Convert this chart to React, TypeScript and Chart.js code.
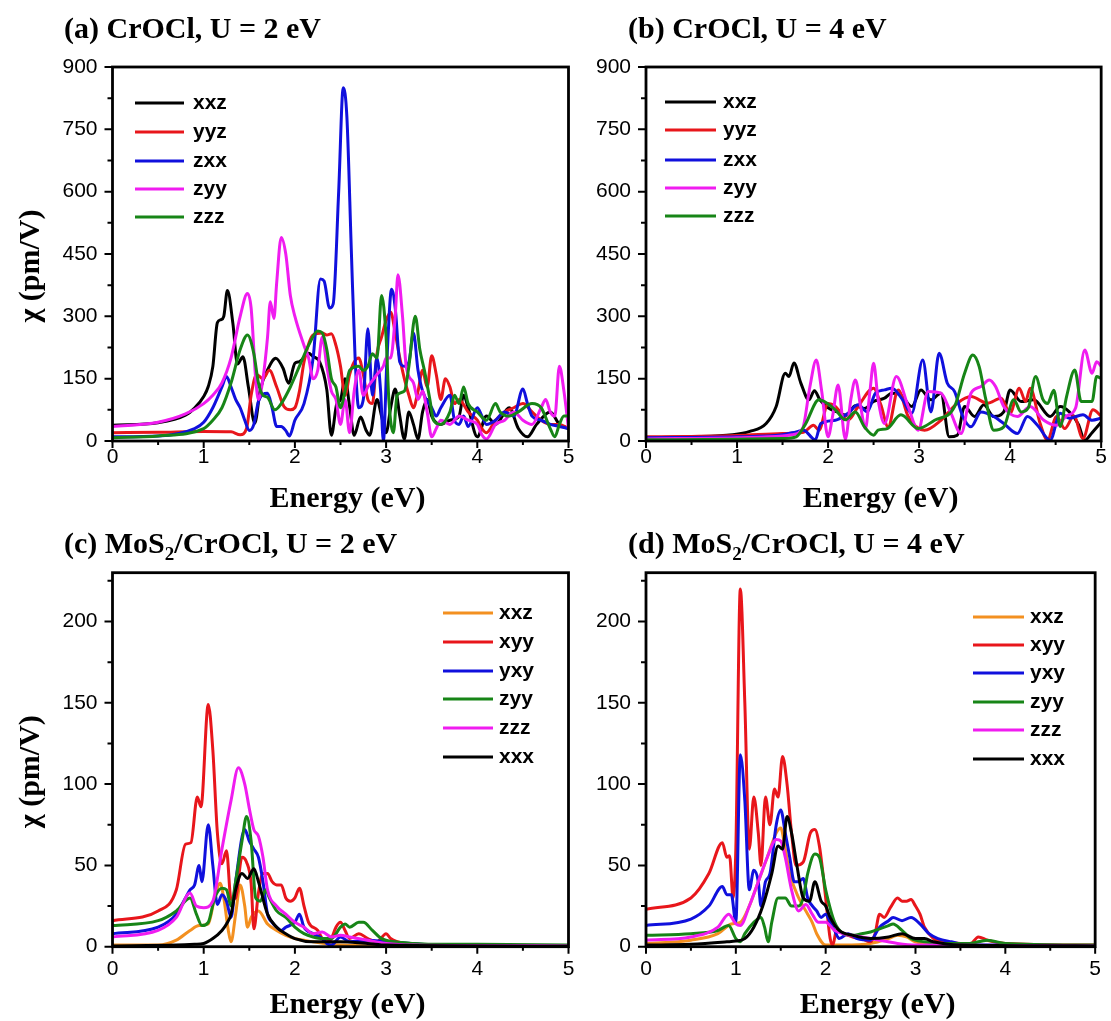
import React, { useEffect, useRef } from 'react';
import { Chart, registerables } from 'chart.js';

Chart.register(...registerables);

type Pt = [number, number];

// ---------- axis ticks ----------
const energyTicks = [0, 1, 2, 3, 4, 5];
const energyMinorTicks = [0.5, 1.5, 2.5, 3.5, 4.5];
const chiTicksTop = [0, 150, 300, 450, 600, 750, 900];
const chiMinorTop = [75, 225, 375, 525, 675, 825];
const chiTicksBottom = [0, 50, 100, 150, 200];
const chiMinorBottom = [25, 75, 125, 175, 225];

const labelsCrOCl = ['xxz', 'yyz', 'zxx', 'zyy', 'zzz'];
const labelsHetero = ['xxz', 'xyy', 'yxy', 'zyy', 'zzz', 'xxx'];

// ---------- (a) CrOCl, U = 2 eV ----------
const a_xxz: Pt[] = [[0,38],[0.5,44],[0.8,62],[0.9,79],[1.0,107],[1.05,131],[1.1,179],[1.15,285],[1.19,292],[1.22,300],[1.26,362],[1.32,283],[1.37,185],[1.43,203],[1.49,130],[1.56,43],[1.62,123],[1.7,171],[1.79,199],[1.87,175],[1.93,139],[2.0,187],[2.05,191],[2.15,211],[2.2,203],[2.27,191],[2.35,123],[2.4,14],[2.46,90],[2.5,99],[2.55,150],[2.6,83],[2.65,14],[2.72,58],[2.78,26],[2.82,14],[2.9,100],[2.95,60],[3.0,20],[3.05,80],[3.1,125],[3.15,60],[3.2,5],[3.25,70],[3.3,40],[3.35,5],[3.4,70],[3.45,100],[3.5,60],[3.6,40],[3.7,50],[3.8,60],[3.85,110],[3.9,80],[4.0,10],[4.1,60],[4.2,40],[4.35,80],[4.45,30],[4.55,10],[4.65,40],[4.8,70],[4.9,40],[5.0,30]];
const a_yyz: Pt[] = [[0,20],[0.5,21],[1.0,23],[1.3,22],[1.4,15],[1.47,30],[1.52,110],[1.58,160],[1.65,150],[1.72,170],[1.8,130],[1.88,83],[1.95,75],[2.0,80],[2.05,120],[2.1,190],[2.2,255],[2.3,260],[2.35,255],[2.4,258],[2.45,230],[2.5,180],[2.55,110],[2.6,160],[2.65,190],[2.7,200],[2.75,160],[2.8,100],[2.85,90],[2.9,210],[2.95,250],[3.0,290],[3.05,310],[3.1,260],[3.15,200],[3.2,150],[3.25,110],[3.3,80],[3.35,120],[3.4,170],[3.45,130],[3.5,205],[3.55,160],[3.6,100],[3.65,150],[3.7,130],[3.75,90],[3.8,100],[3.9,70],[4.0,50],[4.05,30],[4.1,20],[4.2,50],[4.3,70],[4.4,80],[4.5,90],[4.6,70],[4.7,50],[4.8,40],[4.9,40],[5.0,30]];
const a_zxx: Pt[] = [[0,10],[0.5,12],[0.9,30],[1.0,45],[1.1,80],[1.2,130],[1.25,155],[1.3,130],[1.35,100],[1.4,80],[1.45,50],[1.5,25],[1.55,40],[1.6,95],[1.7,115],[1.75,80],[1.8,35],[1.85,35],[1.9,25],[1.94,12],[2.0,50],[2.1,90],[2.2,200],[2.28,390],[2.32,385],[2.38,320],[2.42,330],[2.48,600],[2.53,850],[2.57,780],[2.62,450],[2.66,200],[2.7,80],[2.75,100],[2.8,270],[2.85,110],[2.9,200],[2.94,120],[2.97,0],[3.01,200],[3.06,365],[3.1,320],[3.15,190],[3.2,180],[3.25,190],[3.3,260],[3.35,170],[3.4,120],[3.5,80],[3.55,60],[3.6,80],[3.7,110],[3.75,50],[3.8,40],[3.85,60],[3.9,35],[4.0,80],[4.05,60],[4.1,40],[4.2,50],[4.3,70],[4.4,60],[4.5,125],[4.55,90],[4.6,60],[4.7,50],[4.8,40],[4.9,35],[5.0,30]];
const a_zyy: Pt[] = [[0,35],[0.5,45],[0.8,65],[1.0,90],[1.1,110],[1.2,140],[1.3,200],[1.4,300],[1.48,355],[1.52,320],[1.57,150],[1.6,100],[1.65,150],[1.7,250],[1.73,335],[1.77,295],[1.8,380],[1.85,490],[1.9,450],[1.95,350],[2.0,300],[2.1,230],[2.15,200],[2.2,150],[2.25,170],[2.3,250],[2.35,180],[2.4,120],[2.45,100],[2.5,40],[2.55,100],[2.6,20],[2.65,120],[2.7,170],[2.75,110],[2.8,130],[2.9,160],[2.97,180],[3.0,200],[3.05,200],[3.1,300],[3.13,400],[3.18,300],[3.22,180],[3.3,140],[3.35,100],[3.4,120],[3.45,70],[3.5,10],[3.55,30],[3.6,50],[3.7,40],[3.8,60],[3.9,50],[4.0,40],[4.05,15],[4.1,5],[4.2,40],[4.3,50],[4.4,70],[4.5,50],[4.6,40],[4.7,80],[4.75,100],[4.8,70],[4.85,60],[4.9,180],[4.95,120],[5.0,30]];
const a_zzz: Pt[] = [[0,8],[0.5,12],[1.0,30],[1.1,50],[1.2,80],[1.3,140],[1.4,220],[1.48,255],[1.55,210],[1.6,140],[1.65,110],[1.7,105],[1.78,75],[1.85,90],[1.95,130],[2.05,180],[2.15,230],[2.25,265],[2.3,260],[2.35,220],[2.4,150],[2.45,130],[2.5,80],[2.55,120],[2.6,170],[2.7,180],[2.75,170],[2.8,180],[2.85,210],[2.9,200],[2.95,350],[3.0,250],[3.03,100],[3.08,20],[3.12,110],[3.2,120],[3.25,180],[3.32,300],[3.37,220],[3.42,170],[3.48,100],[3.52,50],[3.6,40],[3.7,70],[3.75,110],[3.8,90],[3.85,130],[3.9,90],[4.0,70],[4.1,50],[4.2,90],[4.25,70],[4.35,60],[4.45,70],[4.6,90],[4.7,80],[4.8,30],[4.85,10],[4.9,40],[4.95,60],[5.0,60]];

// ---------- (b) CrOCl, U = 4 eV ----------
const b_xxz: Pt[] = [[0,8],[0.5,10],[0.95,15],[1.14,23],[1.32,42],[1.43,83],[1.53,163],[1.57,155],[1.625,188],[1.7,140],[1.79,99],[1.85,121],[1.91,99],[2.0,80],[2.1,70],[2.2,62],[2.3,85],[2.4,78],[2.5,95],[2.62,103],[2.7,115],[2.8,111],[2.92,83],[3.02,123],[3.13,99],[3.24,115],[3.33,10],[3.42,14],[3.5,83],[3.61,59],[3.71,87],[3.82,59],[3.93,70],[4.0,123],[4.12,95],[4.26,99],[4.44,59],[4.55,83],[4.65,70],[4.75,40],[4.82,2],[4.9,20],[5.0,45]];
const b_yyz: Pt[] = [[0,10],[0.5,11],[1.0,13],[1.5,18],[1.73,21],[1.84,38],[1.9,26],[2.0,90],[2.08,83],[2.22,50],[2.33,83],[2.5,127],[2.58,87],[2.66,34],[2.77,123],[2.88,59],[3.06,26],[3.24,50],[3.42,91],[3.57,107],[3.75,91],[3.9,103],[4.0,67],[4.1,127],[4.17,95],[4.22,127],[4.33,42],[4.41,2],[4.51,59],[4.6,30],[4.7,60],[4.8,6],[4.91,75],[5.0,60]];
const b_zxx: Pt[] = [[0,8],[1.0,10],[1.5,15],[1.65,22],[1.73,26],[1.86,3],[1.92,42],[2.08,50],[2.22,67],[2.33,87],[2.43,70],[2.52,115],[2.62,123],[2.7,127],[2.82,99],[2.92,67],[3.04,195],[3.13,70],[3.22,211],[3.31,139],[3.39,119],[3.48,59],[3.57,34],[3.68,70],[3.82,59],[3.93,42],[4.08,18],[4.19,59],[4.3,38],[4.44,2],[4.55,67],[4.65,55],[4.8,63],[4.9,50],[5.0,55]];
const b_zyy: Pt[] = [[0,5],[1.0,8],[1.5,12],[1.6,15],[1.72,30],[1.8,130],[1.87,195],[1.93,120],[2.0,10],[2.05,60],[2.11,135],[2.19,5],[2.25,100],[2.3,147],[2.36,80],[2.41,30],[2.46,120],[2.5,187],[2.55,99],[2.62,42],[2.75,155],[2.88,83],[2.99,26],[3.1,119],[3.24,115],[3.35,67],[3.46,18],[3.57,115],[3.68,131],[3.77,147],[3.84,131],[3.93,83],[4.08,59],[4.22,83],[4.37,50],[4.51,38],[4.62,60],[4.72,80],[4.82,219],[4.9,163],[4.95,191],[5.0,180]];
const b_zzz: Pt[] = [[0,3],[1.0,4],[1.5,6],[1.65,10],[1.75,40],[1.9,99],[2.08,75],[2.19,51],[2.3,70],[2.4,34],[2.5,14],[2.55,26],[2.65,30],[2.8,63],[2.99,30],[3.17,50],[3.39,83],[3.5,163],[3.59,207],[3.66,179],[3.73,103],[3.82,26],[3.93,34],[4.04,99],[4.12,70],[4.2,80],[4.28,155],[4.36,100],[4.41,90],[4.48,122],[4.55,35],[4.62,107],[4.71,171],[4.78,95],[4.9,95],[4.95,155],[5.0,150]];

// ---------- (c) MoS2/CrOCl, U = 2 eV ----------
const c_xxz: Pt[] = [[0,1],[0.5,1],[0.7,4],[0.85,10],[0.95,13],[1.05,14],[1.12,30],[1.18,39],[1.22,30],[1.27,10],[1.3,3],[1.35,20],[1.4,38],[1.45,25],[1.48,12],[1.52,18],[1.6,22],[1.7,14],[1.8,10],[1.9,7],[2.0,5],[2.2,3],[2.5,1],[3.0,0.5],[5.0,0.2]];
const c_xyy: Pt[] = [[0,16],[0.5,22],[0.7,35],[0.8,63],[0.86,64],[0.93,92],[0.97,86],[1.05,149],[1.1,121],[1.15,70],[1.2,51],[1.25,59],[1.3,29],[1.35,30],[1.42,55],[1.47,52],[1.52,39],[1.55,11],[1.6,33],[1.65,45],[1.7,45],[1.75,40],[1.8,38],[1.85,38],[1.9,30],[1.95,28],[2.0,30],[2.05,36],[2.1,25],[2.15,15],[2.25,10],[2.3,5],[2.35,3],[2.4,5],[2.45,12],[2.5,15],[2.55,10],[2.6,5],[2.7,8],[2.8,5],[2.9,3],[3.0,8],[3.05,5],[3.2,2],[3.5,1],[5.0,0.5]];
const c_yxy: Pt[] = [[0,8],[0.5,12],[0.7,20],[0.8,30],[0.85,35],[0.9,38],[0.95,50],[0.98,40],[1.05,75],[1.1,50],[1.15,26],[1.2,32],[1.25,28],[1.3,18],[1.35,40],[1.45,72],[1.5,65],[1.55,60],[1.6,55],[1.65,40],[1.7,20],[1.75,15],[1.8,12],[1.85,10],[1.9,12],[2.0,15],[2.05,20],[2.1,12],[2.2,8],[2.3,5],[2.35,2],[2.4,1],[2.5,6],[2.6,3],[2.8,4],[3.0,3],[3.3,2],[3.5,1],[5.0,0.5]];
const c_zyy: Pt[] = [[0,13],[0.5,16],[0.7,22],[0.85,30],[0.92,20],[0.98,13],[1.05,15],[1.12,30],[1.2,36],[1.25,35],[1.3,25],[1.35,40],[1.42,65],[1.47,80],[1.52,65],[1.57,30],[1.62,28],[1.68,35],[1.72,30],[1.8,22],[1.9,18],[2.0,12],[2.1,8],[2.2,6],[2.3,5],[2.4,5],[2.5,12],[2.55,14],[2.6,12],[2.7,15],[2.75,15],[2.85,10],[2.95,5],[3.1,3],[3.3,2],[3.5,1.5],[4.0,1.5],[5.0,1]];
const c_zzz: Pt[] = [[0,6],[0.5,10],[0.7,18],[0.85,33],[0.92,25],[1.0,24],[1.1,28],[1.2,60],[1.3,90],[1.38,110],[1.45,100],[1.5,85],[1.55,72],[1.6,68],[1.65,55],[1.7,35],[1.8,25],[1.9,20],[2.0,15],[2.1,12],[2.2,8],[2.3,9],[2.4,6],[2.5,7],[2.6,6],[2.8,4],[3.0,2],[3.3,1],[5.0,0.5]];
const c_xxx: Pt[] = [[0,0.5],[0.7,1],[0.9,1.5],[1.0,2],[1.1,5],[1.2,10],[1.25,14],[1.3,20],[1.35,35],[1.42,45],[1.48,42],[1.55,48],[1.6,40],[1.7,20],[1.8,12],[1.9,8],[2.0,5],[2.2,3],[2.5,3],[2.8,2],[3.0,1],[5.0,0.3]];

// ---------- (d) MoS2/CrOCl, U = 4 eV ----------
const d_xxz: Pt[] = [[0,2],[0.5,4],[0.8,8],[0.95,14],[1.05,15],[1.15,25],[1.25,40],[1.35,55],[1.45,70],[1.5,73],[1.55,60],[1.6,45],[1.7,30],[1.8,20],[1.85,15],[1.9,8],[2.0,1],[2.2,1],[2.5,2],[2.7,5],[2.8,7],[2.9,6],[3.0,3],[3.2,1],[5.0,0.2]];
const d_xyy: Pt[] = [[0,23],[0.5,30],[0.7,45],[0.85,64],[0.9,55],[0.93,56],[0.97,30],[1.0,60],[1.05,220],[1.1,150],[1.15,60],[1.2,92],[1.25,70],[1.28,50],[1.33,92],[1.38,75],[1.43,97],[1.47,92],[1.52,117],[1.57,100],[1.62,70],[1.67,50],[1.75,52],[1.83,70],[1.88,72],[1.93,62],[1.97,45],[2.0,30],[2.05,5],[2.08,1],[2.12,10],[2.2,8],[2.3,6],[2.4,5],[2.5,3],[2.55,8],[2.6,20],[2.65,18],[2.72,24],[2.8,30],[2.85,28],[2.9,28],[2.95,29],[3.0,25],[3.05,20],[3.1,12],[3.2,5],[3.3,3],[3.5,2],[3.6,1],[3.7,6],[3.8,4],[4.0,2],[5.0,1]];
const d_yxy: Pt[] = [[0,13],[0.5,17],[0.7,25],[0.85,37],[0.9,32],[0.95,32],[1.0,15],[1.05,118],[1.1,90],[1.15,35],[1.2,47],[1.25,40],[1.28,25],[1.33,40],[1.38,45],[1.45,75],[1.5,84],[1.55,70],[1.6,55],[1.65,40],[1.7,40],[1.75,42],[1.8,30],[1.9,22],[1.95,18],[2.0,20],[2.05,15],[2.1,10],[2.15,5],[2.25,8],[2.35,5],[2.5,4],[2.6,12],[2.7,16],[2.75,18],[2.85,16],[2.95,18],[3.05,14],[3.15,8],[3.25,5],[3.4,3],[3.6,1],[4.0,1],[5.0,0.5]];
const d_zyy: Pt[] = [[0,7],[0.5,8],[0.8,10],[0.92,13],[1.0,5],[1.05,3],[1.1,8],[1.2,15],[1.28,18],[1.32,12],[1.36,3],[1.4,15],[1.47,30],[1.55,30],[1.62,25],[1.7,25],[1.75,30],[1.8,45],[1.88,57],[1.93,55],[2.0,35],[2.1,15],[2.2,8],[2.3,7],[2.4,8],[2.5,9],[2.6,11],[2.7,13],[2.75,14],[2.85,10],[2.95,5],[3.1,3],[3.3,2],[3.6,2],[3.8,4],[4.0,2],[5.0,1]];
const d_zzz: Pt[] = [[0,4],[0.5,6],[0.8,12],[0.92,20],[1.0,14],[1.05,13],[1.15,25],[1.25,40],[1.35,55],[1.45,66],[1.5,65],[1.55,55],[1.62,35],[1.7,22],[1.78,26],[1.85,20],[1.92,15],[2.0,15],[2.1,10],[2.2,8],[2.4,6],[2.6,4],[2.8,2],[3.0,1],[5.0,0.5]];
const d_xxx: Pt[] = [[0,1],[0.5,1.5],[0.9,3],[1.0,3.5],[1.1,5],[1.2,12],[1.3,25],[1.4,45],[1.47,62],[1.52,60],[1.57,80],[1.62,70],[1.68,50],[1.75,30],[1.82,28],[1.88,40],[1.95,28],[2.0,25],[2.05,18],[2.15,10],[2.3,7],[2.5,5],[2.7,6],[2.85,8],[3.0,5],[3.1,5],[3.2,3],[3.5,1],[5.0,0.5]];

// ---------- styles ----------
const BLACK = '#000000';
const RED = '#e8161b';
const BLUE = '#1010dd';
const MAGENTA = '#f01cf0';
const GREEN = '#178517';
const ORANGE = '#f39020';

const colorsCrOCl = [BLACK, RED, BLUE, MAGENTA, GREEN];
const colorsHetero = [ORANGE, RED, BLUE, GREEN, MAGENTA, BLACK];

const SANS = '"Liberation Sans", Arial, sans-serif';
const SERIF = '"Liberation Serif", "Times New Roman", serif';

interface PanelCfg {
  left: number; top: number; width: number; height: number;
  area: { left: number; right: number; top: number; bottom: number };
  yMax: number; majorY: number[]; minorY: number[];
  labels: string[]; colors: string[]; series: Pt[][];
  legend: { x1: number; x2: number; tx: number; ys: number[] };
  yTitle: boolean; xTickPad: number;
}

const panels: PanelCfg[] = [
  {
    left: 0, top: 0, width: 590, height: 520,
    area: { left: 112.5, right: 568.5, top: 67, bottom: 441 },
    yMax: 900, majorY: chiTicksTop, minorY: chiMinorTop,
    labels: labelsCrOCl, colors: colorsCrOCl, series: [a_xxz, a_yyz, a_zxx, a_zyy, a_zzz],
    legend: { x1: 135, x2: 184, tx: 193, ys: [103, 132, 161, 189, 217] },
    yTitle: true, xTickPad: 4,
  },
  {
    left: 590, top: 0, width: 521, height: 520,
    area: { left: 646, right: 1103, top: 67, bottom: 441 },
    yMax: 900, majorY: chiTicksTop, minorY: chiMinorTop,
    labels: labelsCrOCl, colors: colorsCrOCl, series: [b_xxz, b_yyz, b_zxx, b_zyy, b_zzz],
    legend: { x1: 665, x2: 716, tx: 723, ys: [102, 130, 160, 188, 216] },
    yTitle: false, xTickPad: 4,
  },
  {
    left: 0, top: 520, width: 590, height: 501,
    area: { left: 112.5, right: 568.5, top: 572.7, bottom: 946.7 },
    yMax: 230, majorY: chiTicksBottom, minorY: chiMinorBottom,
    labels: labelsHetero, colors: colorsHetero, series: [c_xxz, c_xyy, c_yxy, c_zyy, c_zzz, c_xxx],
    legend: { x1: 443, x2: 493, tx: 499, ys: [613, 642, 671, 699, 728, 757] },
    yTitle: true, xTickPad: 10,
  },
  {
    left: 590, top: 520, width: 521, height: 501,
    area: { left: 646, right: 1103, top: 572.7, bottom: 946.7 },
    yMax: 230, majorY: chiTicksBottom, minorY: chiMinorBottom,
    labels: labelsHetero, colors: colorsHetero, series: [d_xxz, d_xyy, d_yxy, d_zyy, d_zzz, d_xxx],
    legend: { x1: 973, x2: 1024, tx: 1030, ys: [617, 645, 673, 702, 730, 759] },
    yTitle: false, xTickPad: 10,
  },
];

function makeDecor(cfg: PanelCfg) {
  return {
    id: 'decor',
    afterDatasetsDraw(chart: any) {
      const { ctx, chartArea: a, scales } = chart;
      const xs = scales.x, ys = scales.y;
      ctx.save();
      ctx.strokeStyle = '#000';
      ctx.lineWidth = 2;
      ctx.beginPath();
      energyTicks.forEach((v) => { const p = xs.getPixelForValue(v); ctx.moveTo(p, a.bottom); ctx.lineTo(p, a.bottom + 7); });
      energyMinorTicks.forEach((v) => { const p = xs.getPixelForValue(v); ctx.moveTo(p, a.bottom); ctx.lineTo(p, a.bottom + 4); });
      cfg.majorY.forEach((v) => { const p = ys.getPixelForValue(v); ctx.moveTo(a.left, p); ctx.lineTo(a.left - 8, p); });
      cfg.minorY.forEach((v) => { const p = ys.getPixelForValue(v); ctx.moveTo(a.left, p); ctx.lineTo(a.left - 5, p); });
      ctx.stroke();
      ctx.lineWidth = 2.8;
      ctx.strokeRect(a.left, a.top, a.right - a.left, a.bottom - a.top);

      // legend
      ctx.font = `bold 21px ${SANS}`;
      ctx.textAlign = 'left';
      ctx.textBaseline = 'middle';
      chart.data.datasets.forEach((ds: any, i: number) => {
        const y = cfg.legend.ys[i] - cfg.top;
        ctx.strokeStyle = ds.borderColor;
        ctx.lineWidth = 3.2;
        ctx.beginPath();
        ctx.moveTo(cfg.legend.x1 - cfg.left, y);
        ctx.lineTo(cfg.legend.x2 - cfg.left, y);
        ctx.stroke();
        ctx.fillStyle = '#000';
        ctx.fillText(ds.label, cfg.legend.tx - cfg.left, y);
      });

      // axis titles
      ctx.fillStyle = '#000';
      ctx.font = `bold 30px ${SERIF}`;
      ctx.textAlign = 'center';
      ctx.textBaseline = 'alphabetic';
      ctx.fillText('Energy (eV)', (a.left + a.right) / 2 + 7, a.bottom + 66);
      if (cfg.yTitle) {
        ctx.translate(31 - cfg.left, (a.top + a.bottom) / 2 + 12);
        ctx.rotate(-Math.PI / 2);
        ctx.textBaseline = 'middle';
        ctx.fillText('χ (pm/V)', 0, 0);
      }
      ctx.restore();
    },
  };
}

function Panel({ cfg }: { cfg: PanelCfg }) {
  const ref = useRef<HTMLCanvasElement | null>(null);
  useEffect(() => {
    if (!ref.current) return;
    const chart = new Chart(ref.current, {
      type: 'line',
      data: {
        datasets: cfg.series.map((s, i) => ({
          label: cfg.labels[i],
          data: s.map(([x, y]) => ({ x, y })),
          borderColor: cfg.colors[i],
          backgroundColor: cfg.colors[i],
          borderWidth: 3,
          pointRadius: 0,
          fill: false,
          cubicInterpolationMode: 'monotone' as const,
          order: -i,
        })),
      },
      options: {
        animation: false,
        responsive: false,
        devicePixelRatio: 1,
        events: [],
        layout: {
          padding: {
            left: 0,
            top: cfg.area.top - cfg.top,
            right: cfg.left + cfg.width - cfg.area.right,
            bottom: 0,
          },
        },
        plugins: { legend: { display: false }, tooltip: { enabled: false }, title: { display: false } },
        scales: {
          x: {
            type: 'linear',
            min: 0,
            max: 5,
            grid: { display: false, drawTicks: false, tickLength: 0 },
            border: { display: false },
            ticks: { padding: cfg.xTickPad, color: '#000', font: { family: SANS, size: 21 }, maxRotation: 0, autoSkip: false },
            afterBuildTicks: (s: any) => { s.ticks = energyTicks.map((v) => ({ value: v })); },
            afterFit: (s: any) => { s.height = cfg.top + cfg.height - cfg.area.bottom; },
          },
          y: {
            type: 'linear',
            min: 0,
            max: cfg.yMax,
            grid: { display: false, drawTicks: false, tickLength: 0 },
            border: { display: false },
            ticks: { padding: 15, color: '#000', font: { family: SANS, size: 21 }, autoSkip: false },
            afterBuildTicks: (s: any) => { s.ticks = cfg.majorY.map((v) => ({ value: v })); },
            afterFit: (s: any) => { s.width = cfg.area.left - cfg.left; },
          },
        },
      },
      plugins: [makeDecor(cfg)],
    } as any);
    return () => chart.destroy();
  }, [cfg]);
  return (
    <canvas
      ref={ref}
      width={cfg.width}
      height={cfg.height}
      style={{ position: 'absolute', left: cfg.left, top: cfg.top, width: cfg.width, height: cfg.height }}
    />
  );
}

const titleStyle: React.CSSProperties = {
  position: 'absolute',
  fontFamily: SERIF,
  fontWeight: 'bold',
  fontSize: '30px',
  lineHeight: '30px',
  whiteSpace: 'nowrap',
  color: '#000',
};
const subStyle: React.CSSProperties = { fontSize: '19px', position: 'relative', top: '7px' };

export default function App() {
  useEffect(() => {
    document.body.style.margin = '0';
    document.body.style.background = '#fff';
  }, []);
  return (
    <div style={{ position: 'relative', width: 1111, height: 1021, background: '#fff', overflow: 'hidden' }}>
      {panels.map((p, i) => <Panel key={i} cfg={p} />)}
      <div style={{ ...titleStyle, left: 64, top: 13 }}>(a) CrOCl, U = 2 eV</div>
      <div style={{ ...titleStyle, left: 628, top: 13 }}>(b) CrOCl, U = 4 eV</div>
      <div style={{ ...titleStyle, left: 64, top: 528 }}>(c) MoS<span style={subStyle}>2</span>/CrOCl, U = 2 eV</div>
      <div style={{ ...titleStyle, left: 628, top: 528 }}>(d) MoS<span style={subStyle}>2</span>/CrOCl, U = 4 eV</div>
    </div>
  );
}
